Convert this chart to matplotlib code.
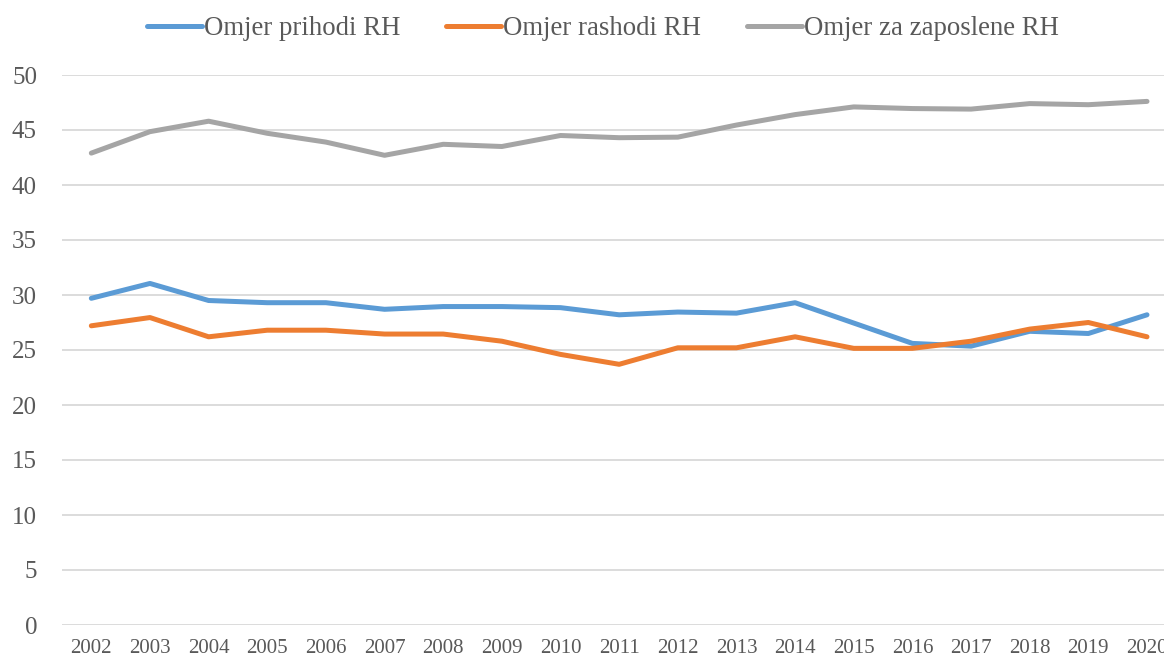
import matplotlib.pyplot as plt

years = [str(y) for y in range(2002, 2021)]

prihodi = [29.7, 31.05, 29.5, 29.3, 29.3, 28.7, 28.95, 28.95, 28.85, 28.2,
           28.45, 28.35, 29.3, 27.45, 25.6, 25.35, 26.7, 26.5, 28.2]
rashodi = [27.2, 27.95, 26.2, 26.8, 26.8, 26.45, 26.45, 25.8, 24.6, 23.7,
           25.2, 25.2, 26.2, 25.15, 25.15, 25.8, 26.9, 27.5, 26.2]
zaposleni = [42.9, 44.85, 45.8, 44.7, 43.9, 42.7, 43.7, 43.5, 44.5, 44.3,
             44.35, 45.45, 46.4, 47.1, 46.95, 46.9, 47.4, 47.3, 47.6]

labels = ["Omjer prihodi RH", "Omjer rashodi RH", "Omjer za zaposlene RH"]
colors = ["#5b9bd5", "#ed7d31", "#a5a5a5"]

plt.rcParams['font.family'] = ['Liberation Serif', 'DejaVu Serif']

fig = plt.figure(figsize=(11.64, 6.58), dpi=100)
ax = fig.add_axes([62 / 1164, 33 / 658, 1 - 62 / 1164, 550 / 658])

x = list(range(len(years)))
for vals, lab, col in zip([prihodi, rashodi, zaposleni], labels, colors):
    ax.plot(x, vals, color=col, lw=3.6, label=lab, solid_capstyle='round')

ax.set_ylim(0, 50)
ax.set_xlim(-0.5, 18.29)
ax.set_yticks(range(0, 51, 5))
ax.set_xticks(x)
ax.set_xticklabels(years)
ax.grid(axis='y', color='#d9d9d9', lw=1.3)
ax.set_axisbelow(True)
for s in ax.spines.values():
    s.set_visible(False)
ax.tick_params(axis='both', length=0, colors='#595959')
ax.tick_params(axis='y', labelsize=18, pad=18)
ax.tick_params(axis='x', labelsize=15, pad=10)

fig.legend(loc='upper center', bbox_to_anchor=(0.518, 1.012), ncol=3, frameon=False,
           fontsize=19.3, handlelength=2.05, handletextpad=0.08, columnspacing=1.7,
           labelcolor='#595959')

fig.savefig('out.png', dpi=100)
